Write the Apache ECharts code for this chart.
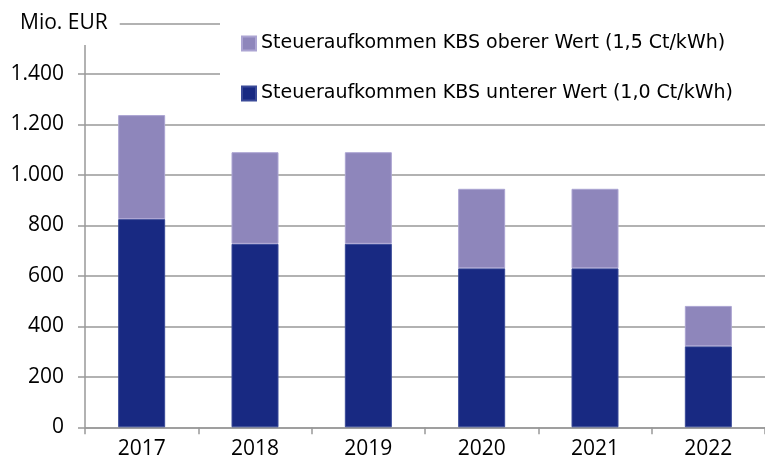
<!DOCTYPE html>
<html>
<head>
<meta charset="utf-8">
<script src="https://cdn.jsdelivr.net/npm/echarts@6/dist/echarts.min.js"></script>
<style>
html,body{margin:0;padding:0;background:#fff;}
#c{width:765px;height:467px;}
</style>
</head>
<body>
<div id="c"></div>
<script>
const categories = ['2017', '2018', '2019', '2020', '2021', '2022'];
const lowerName = 'Steueraufkommen KBS unterer Wert (1,0 Ct/kWh)';
const upperName = 'Steueraufkommen KBS oberer Wert (1,5 Ct/kWh)';
const lowerValues = [825, 727, 727, 630, 630, 321];
const upperValues = [412, 363, 363, 315, 315, 160];
const unitLabel = 'Mio. EUR';
const yTicks = [0, 200, 400, 600, 800, 1000, 1200, 1400, 1600];

const chart = echarts.init(document.getElementById('c'), null, {renderer: 'canvas'});
const fmt = v => v >= 1000 ? Math.floor(v / 1000) + '.' + String(v % 1000).padStart(3, '0') : String(v);

chart.setOption({
  animation: false,
  backgroundColor: '#fff',
  title: {
    text: unitLabel,
    left: 16,
    top: 8,
    padding: [4, 12, 10, 4],
    backgroundColor: '#fff',
    textStyle: {fontFamily: 'Open Sans', fontSize: 21, fontWeight: 'normal', color: '#000', lineHeight: 23}
  },
  legend: {
    data: [upperName, lowerName],
    orient: 'vertical',
    left: 220,
    top: 14,
    padding: [20, 80, 14, 21],
    backgroundColor: '#fff',
    itemWidth: 14,
    itemHeight: 14,
    itemGap: 31,
    icon: 'rect',
    textStyle: {fontFamily: 'DejaVu Sans', fontSize: 19, color: '#000'}
  },
  grid: {left: 85, right: -13, top: 23.5, bottom: 39.7, containLabel: false},
  xAxis: {
    type: 'category',
    data: categories,
    axisLine: {lineStyle: {color: '#999', width: 1.5}},
    axisTick: {show: true, length: 7, lineStyle: {color: '#999', width: 1.5}},
    axisLabel: {fontFamily: 'Open Sans', fontSize: 21, color: '#000', margin: 11}
  },
  yAxis: {
    type: 'value',
    min: yTicks[0],
    max: yTicks[yTicks.length - 1],
    interval: 200,
    axisLine: {show: true, lineStyle: {color: '#999', width: 1.5}},
    axisTick: {show: true, length: 7, lineStyle: {color: '#999', width: 1.5}},
    splitLine: {lineStyle: {color: '#999', width: 1.5}},
    axisLabel: {
      fontFamily: 'Open Sans', fontSize: 21, color: '#000', margin: 21,
      formatter: v => v === yTicks[yTicks.length - 1] ? '' : fmt(v)
    }
  },
  series: [
    {
      name: lowerName, type: 'bar', stack: 'a', data: lowerValues, barWidth: 47,
      itemStyle: {color: '#182982', borderColor: '#3a4a98', borderWidth: 1}
    },
    {
      name: upperName, type: 'bar', stack: 'a', data: upperValues, barWidth: 47,
      itemStyle: {color: '#8e86bb', borderColor: '#aba4d2', borderWidth: 1}
    }
  ]
});
</script>
</body>
</html>
